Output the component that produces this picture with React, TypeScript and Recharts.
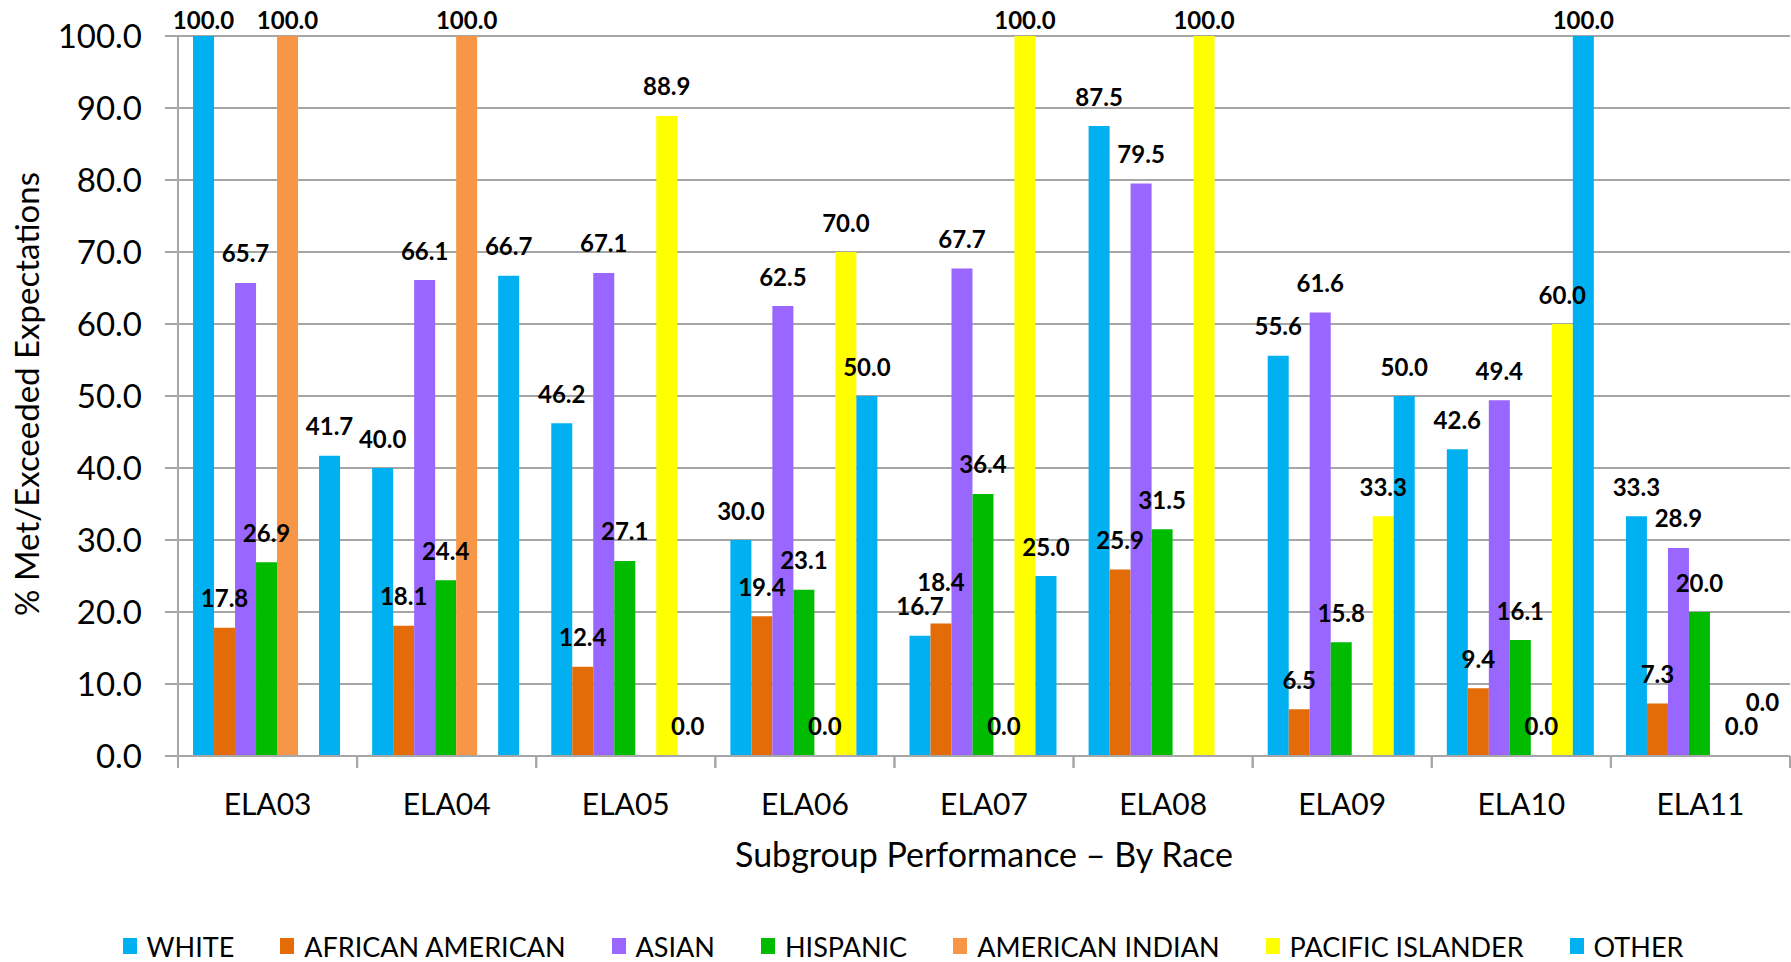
import React from 'react';
import {
  BarChart,
  Bar,
  XAxis,
  YAxis,
  CartesianGrid,
  Legend,
  LabelList,
} from 'recharts';

const categories = ['ELA03', 'ELA04', 'ELA05', 'ELA06', 'ELA07', 'ELA08', 'ELA09', 'ELA10', 'ELA11'];

const white = [100.0, 40.0, 46.2, 30.0, 16.7, 87.5, 55.6, 42.6, 33.3];
const africanAmerican = [17.8, 18.1, 12.4, 19.4, 18.4, 25.9, 6.5, 9.4, 7.3];
const asian = [65.7, 66.1, 67.1, 62.5, 67.7, 79.5, 61.6, 49.4, 28.9];
const hispanic = [26.9, 24.4, 27.1, 23.1, 36.4, 31.5, 15.8, 16.1, 20.0];
const americanIndian = [100.0, 100.0, null, 0.0, 0.0, null, null, 0.0, null];
const pacificIslander = [null, null, 88.9, 70.0, 100.0, 100.0, 33.3, 60.0, 0.0];
const other = [41.7, 66.7, 0.0, 50.0, 25.0, null, 50.0, 100.0, 0.0];

const yTicks = [0, 10, 20, 30, 40, 50, 60, 70, 80, 90, 100];

const series = [
  { key: 'white', name: 'WHITE', color: '#00B0F0', values: white },
  { key: 'africanAmerican', name: 'AFRICAN AMERICAN', color: '#E36C09', values: africanAmerican },
  { key: 'asian', name: 'ASIAN', color: '#9966FF', values: asian },
  { key: 'hispanic', name: 'HISPANIC', color: '#00BB00', values: hispanic },
  { key: 'americanIndian', name: 'AMERICAN INDIAN', color: '#F79646', values: americanIndian },
  { key: 'pacificIslander', name: 'PACIFIC ISLANDER', color: '#FFFF00', values: pacificIslander },
  { key: 'other', name: 'OTHER', color: '#00B0F0', values: other },
];

const data = categories.map((cat, i) => {
  const row: Record<string, string | number | null> = { category: cat };
  series.forEach((s) => {
    row[s.key] = s.values[i];
  });
  return row;
});

const WIDTH = 1791;
const HEIGHT = 962;
const TOP = 36;
const LEFT = 178;
const RIGHT = 1;
const XAXIS_H = 174;
const LEGEND_H = 32;
const PLOT_H = HEIGHT - TOP - XAXIS_H - LEGEND_H;
const PX_PER_UNIT = PLOT_H / 100;
const FONT = 'Lato, "Open Sans", sans-serif';
const GRID = '#a6a6a6';
const band = (WIDTH - LEFT - RIGHT) / categories.length;

// label centre above the bar; lift it when it would sit on the neighbour's label
const labelY = (top: number, i: number, j: number): number => {
  let cy = Math.max(top - 30, 19);
  const v = series[j].values[i];
  const pv = j > 0 ? series[j - 1].values[i] : null;
  if (v != null && pv != null) {
    const prevTop = top - (pv - v) * PX_PER_UNIT;
    const prevCy = labelY(prevTop, i, j - 1);
    if (Math.abs(cy - prevCy) < 22) cy = prevCy - 24;
  }
  return cy;
};

const BarValueLabel = (props: any) => {
  const { x, y, width, value, seriesIndex } = props;
  if (value === null || value === undefined) return null;
  // LabelList index skips null bars, so find the category from the bar position
  const i = Math.min(categories.length - 1, Math.max(0, Math.floor((x + width / 2 - LEFT) / band)));
  return (
    <text
      x={x + width / 2}
      y={labelY(y, i, seriesIndex)}
      textAnchor="middle"
      dominantBaseline="central"
      fontFamily={FONT}
      fontWeight="bold"
      fontSize={24}
      fill="#000"
    >
      {Number(value).toFixed(1)}
    </text>
  );
};

const CategoryTick = (props: any) => {
  const { x, y, payload } = props;
  return (
    <g>
      <line x1={x - band / 2} x2={x - band / 2} y1={y} y2={y + 12} stroke={GRID} strokeWidth={2} />
      <line x1={x + band / 2} x2={x + band / 2} y1={y} y2={y + 12} stroke={GRID} strokeWidth={2} />
      <text
        x={x}
        y={y + 47}
        textAnchor="middle"
        dominantBaseline="central"
        fontFamily={FONT}
        fontSize={30}
        fill="#000"
      >
        {payload.value}
      </text>
    </g>
  );
};

const YTitle = () => (
  <text
    x={26}
    y={394}
    transform="rotate(-90 26 394)"
    textAnchor="middle"
    dominantBaseline="central"
    fontFamily={FONT}
    fontSize={33}
    fill="#000"
  >
    % Met/Exceeded Expectations
  </text>
);

const LegendContent = () => (
  <div
    style={{
      height: LEGEND_H,
      display: 'flex',
      justifyContent: 'center',
      alignItems: 'center',
      fontFamily: FONT,
      fontSize: 27,
      color: '#000',
      paddingLeft: 16,
    }}
  >
    {series.map((s, j) => (
      <div
        key={s.key}
        style={{ display: 'flex', alignItems: 'center', marginRight: j < series.length - 1 ? 46 : 0 }}
      >
        <span
          style={{ width: 14, height: 16, background: s.color, display: 'inline-block', marginRight: 10 }}
        />
        <span>{s.name}</span>
      </div>
    ))}
  </div>
);

export default function App() {
  return (
    <div style={{ position: 'absolute', left: 0, top: 0, width: WIDTH, height: HEIGHT, background: '#fff' }}>
      <BarChart
        width={WIDTH}
        height={HEIGHT}
        data={data}
        margin={{ top: TOP, right: RIGHT, left: 0, bottom: 0 }}
        barCategoryGap="8.4%"
        barGap={0}
      >
        <CartesianGrid vertical={false} stroke={GRID} strokeWidth={2} />
        <XAxis
          dataKey="category"
          height={XAXIS_H}
          tickSize={0}
          tickMargin={0}
          tickLine={false}
          axisLine={{ stroke: GRID, strokeWidth: 2 }}
          tick={<CategoryTick />}
          interval={0}
          label={{
            value: 'Subgroup  Performance \u2013 By Race',
            position: 'insideTop',
            offset: 87,
            fontFamily: FONT,
            fontSize: 34,
            fill: '#000',
            style: { whiteSpace: 'pre' },
          }}
        />
        <YAxis
          width={LEFT}
          domain={[0, 100]}
          ticks={yTicks}
          interval={0}
          tickFormatter={(v: number) => v.toFixed(1)}
          tickSize={13}
          tickMargin={23}
          tickLine={{ stroke: GRID, strokeWidth: 2 }}
          axisLine={{ stroke: GRID, strokeWidth: 2 }}
          tick={{ fontFamily: FONT, fontSize: 33, fill: '#000' }}
          label={{ content: () => <YTitle /> }}
        />
        <Legend verticalAlign="bottom" content={() => <LegendContent />} />
        {series.map((s, j) => (
          <Bar
            key={s.key}
            dataKey={s.key}
            name={s.name}
            fill={s.color}
            minPointSize={0.01}
            isAnimationActive={false}
          >
            <LabelList
              dataKey={s.key}
              content={(p: any) => <BarValueLabel {...p} seriesIndex={j} />}
            />
          </Bar>
        ))}
      </BarChart>
    </div>
  );
}
